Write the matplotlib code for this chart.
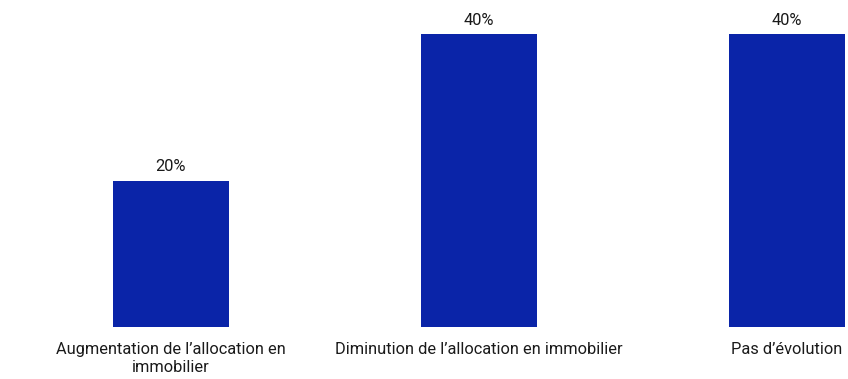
import matplotlib.pyplot as plt

categories = ["Augmentation de l\u2019allocation en\nimmobilier",
              "Diminution de l\u2019allocation en immobilier",
              "Pas d\u2019\u00e9volution"]
values = [20, 40, 40]
value_labels = ["20%", "40%", "40%"]

plt.rcParams['font.family'] = ['Roboto', 'DejaVu Sans']

fig = plt.figure(figsize=(8.48, 3.79), dpi=100)
ax = fig.add_axes([0, 52 / 379, 1, 327 / 379])

x = range(len(categories))
ax.bar(x, values, width=116 / 308, color='#0A24A8')
for xi, v, lab in zip(x, values, value_labels):
    ax.annotate(lab, (xi, v), xytext=(0, 4.5), textcoords='offset points',
                ha='center', va='bottom', fontsize=11.8, color='#1a1a1a')

ax.set_xlim(-171 / 308, 677 / 308)
ax.set_ylim(0, 327 / (292.7 / 40))
ax.set_xticks(list(x))
ax.set_xticklabels(categories, fontsize=11.8, color='#1a1a1a', linespacing=1.32)
ax.tick_params(axis='x', length=0, pad=10.5)
ax.set_yticks([])
for s in ax.spines.values():
    s.set_visible(False)

fig.savefig('out.png', dpi=100)
